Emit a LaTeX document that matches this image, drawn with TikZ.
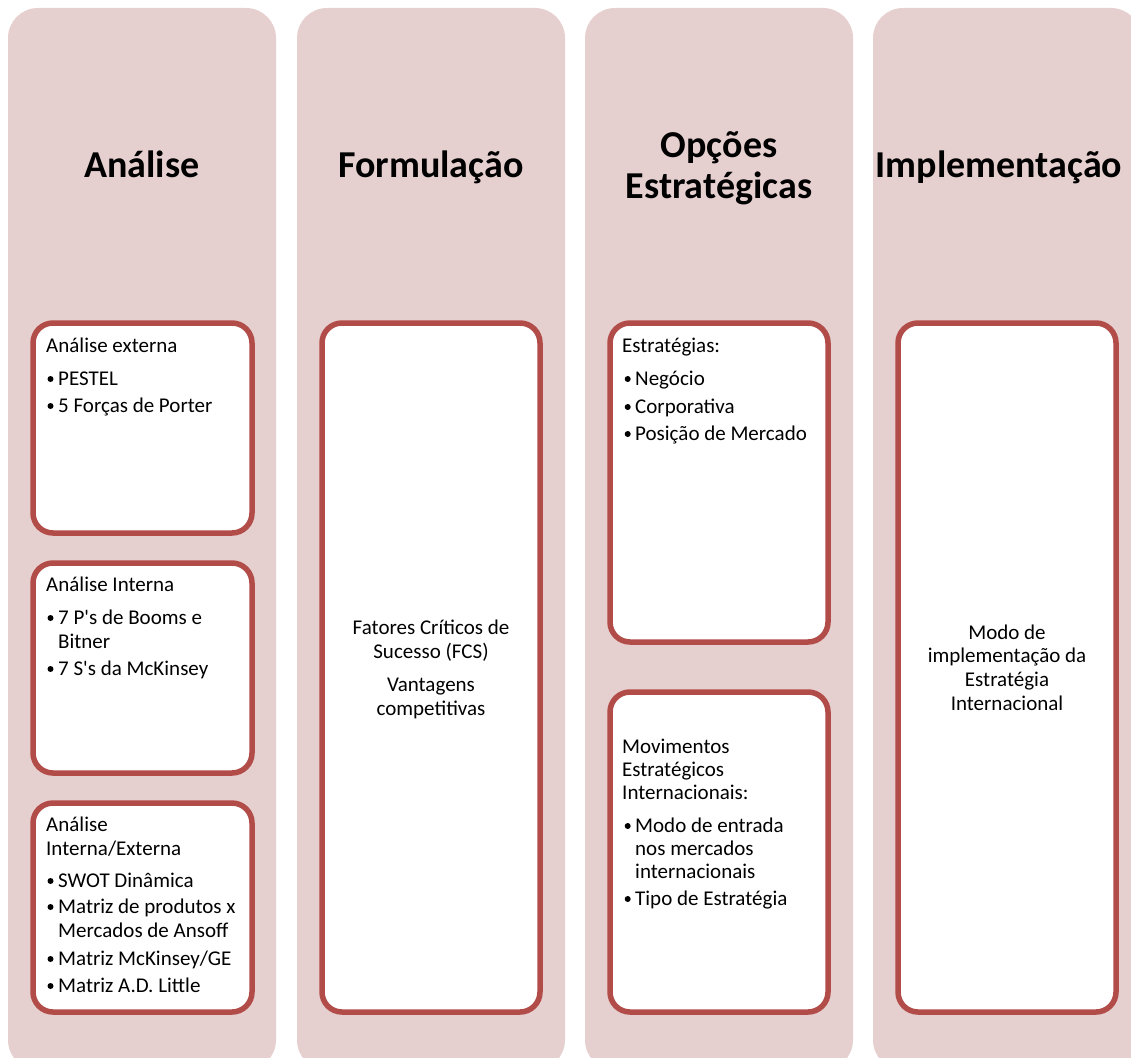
\documentclass[tikz,border=0pt]{standalone}
\usepackage{fontspec}
\setmainfont{Carlito}
\definecolor{colfill}{HTML}{E6CFCF}
\definecolor{boxline}{HTML}{B24C49}
\newcommand{\bodyfont}{\fontsize{21}{24}\selectfont}
\newcommand{\headfont}{\fontsize{38}{41}\selectfont\bfseries}
\begin{document}
\begin{tikzpicture}[x=1pt,y=-1pt,
  colbox/.style={fill=colfill, rounded corners=30},
  cardbox/.style={draw=boxline, line width=5.5, fill=white, rounded corners=20},
  ttl/.style={font=\headfont, inner sep=0, anchor=base},
  txt/.style={font=\bodyfont, inner sep=0, anchor=base west},
  ctr/.style={font=\bodyfont, inner sep=0, anchor=base},
  dot/.style={circle, fill=black, inner sep=0, minimum size=6}]
\useasboundingbox (0,0) rectangle (1131,1057);
\clip (0,0) rectangle (1131,1057);

% four phase columns
\fill[colbox] (8,8) rectangle (276,1070);
\fill[colbox] (297,8) rectangle (565,1070);
\fill[colbox] (585,8) rectangle (853,1070);
\fill[colbox] (873,8) rectangle (1141,1070);

% column titles
\node[ttl] (t1) at (142,177) {Análise};
\node[ttl] (t2) at (431,177) {Formulação};
\node[ttl] (t3a) at (719,157) {Opções};
\node[ttl] (t3b) at (719,198) {Estratégicas};
\node[ttl] (t4) at (999,177) {Implementação};

% white cards
\draw[cardbox] (33,323) rectangle (252,533);
\draw[cardbox] (33,563) rectangle (252,773);
\draw[cardbox] (33,803) rectangle (252,1012);
\draw[cardbox] (322,323) rectangle (540,1012);
\draw[cardbox] (610,323) rectangle (828,642);
\draw[cardbox] (610,692) rectangle (828,1012);
\draw[cardbox] (898,323) rectangle (1116,1012);

% Análise externa
\node[txt] (a1h) at (46,352) {Análise externa};
\node[dot] (a1d1) at (50.5,379) {};
\node[txt] (a1i1) at (58,385) {PESTEL};
\node[dot] (a1d2) at (50.5,406) {};
\node[txt] (a1i2) at (58,412) {5 Forças de Porter};

% Análise interna
\node[txt] (a2h) at (46,591) {Análise Interna};
\node[dot] (a2d1) at (50.5,618) {};
\node[txt] (a2i1a) at (58,624) {7 P\textquotesingle s de Booms e};
\node[txt] (a2i1b) at (58,648) {Bitner};
\node[dot] (a2d2) at (50.5,669) {};
\node[txt] (a2i2) at (58,675) {7 S\textquotesingle s da McKinsey};

% Análise interna/externa
\node[txt] (a3ha) at (46,831) {Análise};
\node[txt] (a3hb) at (46,855) {Interna/Externa};
\node[dot] (a3d1) at (50.5,881) {};
\node[txt] (a3i1) at (58,887) {SWOT Dinâmica};
\node[dot] (a3d2) at (50.5,907) {};
\node[txt] (a3i2a) at (58,913) {Matriz de produtos x};
\node[txt] (a3i2b) at (58,937) {Mercados de Ansoff};
\node[dot] (a3d3) at (50.5,959) {};
\node[txt] (a3i3) at (58,965) {Matriz McKinsey/GE};
\node[dot] (a3d4) at (50.5,986) {};
\node[txt] (a3i4) at (58,992) {Matriz A.D. Little};

% Formulação
\node[ctr] (f1) at (431,634) {Fatores Críticos de};
\node[ctr] (f2) at (431,658) {Sucesso (FCS)};
\node[ctr] (f3) at (431,691) {Vantagens};
\node[ctr] (f4) at (431,715) {competitivas};

% Estratégias
\node[txt] (e1h) at (622,352) {Estratégias:};
\node[dot] (e1d1) at (627.7,379) {};
\node[txt] (e1i1) at (635,385) {Negócio};
\node[dot] (e1d2) at (627.7,407) {};
\node[txt] (e1i2) at (635,413) {Corporativa};
\node[dot] (e1d3) at (627.7,434) {};
\node[txt] (e1i3) at (635,440) {Posição de Mercado};

% Movimentos estratégicos
\node[txt] (e2ha) at (622,753) {Movimentos};
\node[txt] (e2hb) at (622,776) {Estratégicos};
\node[txt] (e2hc) at (622,799) {Internacionais:};
\node[dot] (e2d1) at (627.7,826) {};
\node[txt] (e2i1a) at (635,832) {Modo de entrada};
\node[txt] (e2i1b) at (635,855) {nos mercados};
\node[txt] (e2i1c) at (635,878) {internacionais};
\node[dot] (e2d2) at (627.7,899) {};
\node[txt] (e2i2) at (635,905) {Tipo de Estratégia};

% Implementação
\node[ctr] (m1) at (1007,639) {Modo de};
\node[ctr] (m2) at (1007,662.7) {implementação da};
\node[ctr] (m3) at (1007,686.4) {Estratégia};
\node[ctr] (m4) at (1007,710) {Internacional};
\end{tikzpicture}
\end{document}
